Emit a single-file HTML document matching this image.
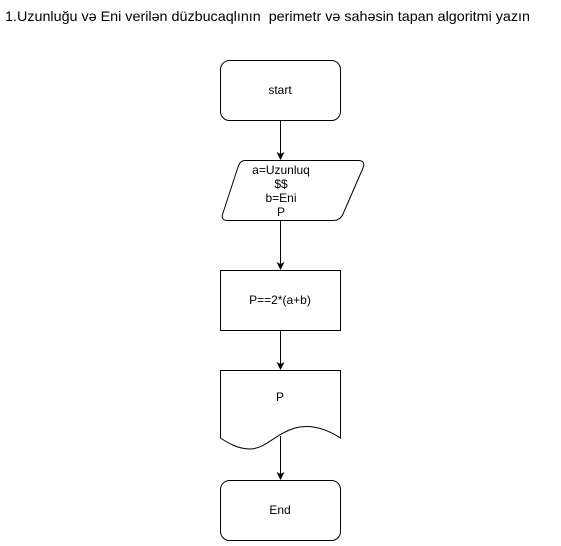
<!DOCTYPE html>
<html><head><style>body{margin:0;background:#fff;width:561px;height:541px;overflow:hidden}</style></head>
<body>
<svg width="561" height="541" xmlns="http://www.w3.org/2000/svg" font-family="Liberation Sans, sans-serif" font-size="12">
<defs><marker id="a" markerWidth="8" markerHeight="8" refX="7" refY="4" orient="auto" markerUnits="userSpaceOnUse"><path d="M0,0 L8,4 L0,8 L2,4 Z" fill="#000"/></marker></defs>
<text x="5" y="21" font-size="14" textLength="525" lengthAdjust="spacingAndGlyphs" xml:space="preserve">1.Uzunluğu və Eni verilən düzbucaqlının  perimetr və sahəsin tapan algoritmi yazın</text>
<rect x="220.5" y="60.5" width="120" height="60" rx="9" fill="#fff" stroke="#000"/>
<text x="280" y="94" text-anchor="middle">start</text>
<line x1="280.5" y1="121" x2="280.5" y2="159" stroke="#000" marker-end="url(#a)"/>
<path d="M245,160.5 L358,160.5 Q366,160.5 363,168 L343,214 Q340,220.5 333,220.5 L228,220.5 Q220,220.5 223,213 L238,167 Q240,160.5 245,160.5 Z" fill="#fff" stroke="#000"/>
<text x="281" y="174" text-anchor="middle">a=Uzunluq</text>
<text x="281" y="188" text-anchor="middle">$$</text>
<text x="281" y="202" text-anchor="middle">b=Eni</text>
<text x="281" y="216" text-anchor="middle">P</text>
<line x1="280.5" y1="221" x2="280.5" y2="269" stroke="#000" marker-end="url(#a)"/>
<rect x="220.5" y="270.5" width="120" height="60" fill="#fff" stroke="#000"/>
<text x="280" y="304" text-anchor="middle">P==2*(a+b)</text>
<line x1="280.5" y1="331" x2="280.5" y2="369" stroke="#000" marker-end="url(#a)"/>
<path d="M220.5,370.5 L340.5,370.5 L340.5,438 C325,428 310,424 295,428 C275,434 265,449 250,449 C238,449 228,443 220.5,438 Z" fill="#fff" stroke="#000"/>
<text x="280" y="401" text-anchor="middle">P</text>
<line x1="280.5" y1="436" x2="280.5" y2="479" stroke="#000" marker-end="url(#a)"/>
<rect x="220.5" y="480.5" width="120" height="60" rx="9" fill="#fff" stroke="#000"/>
<text x="280" y="514" text-anchor="middle">End</text>
</svg>
</body></html>
